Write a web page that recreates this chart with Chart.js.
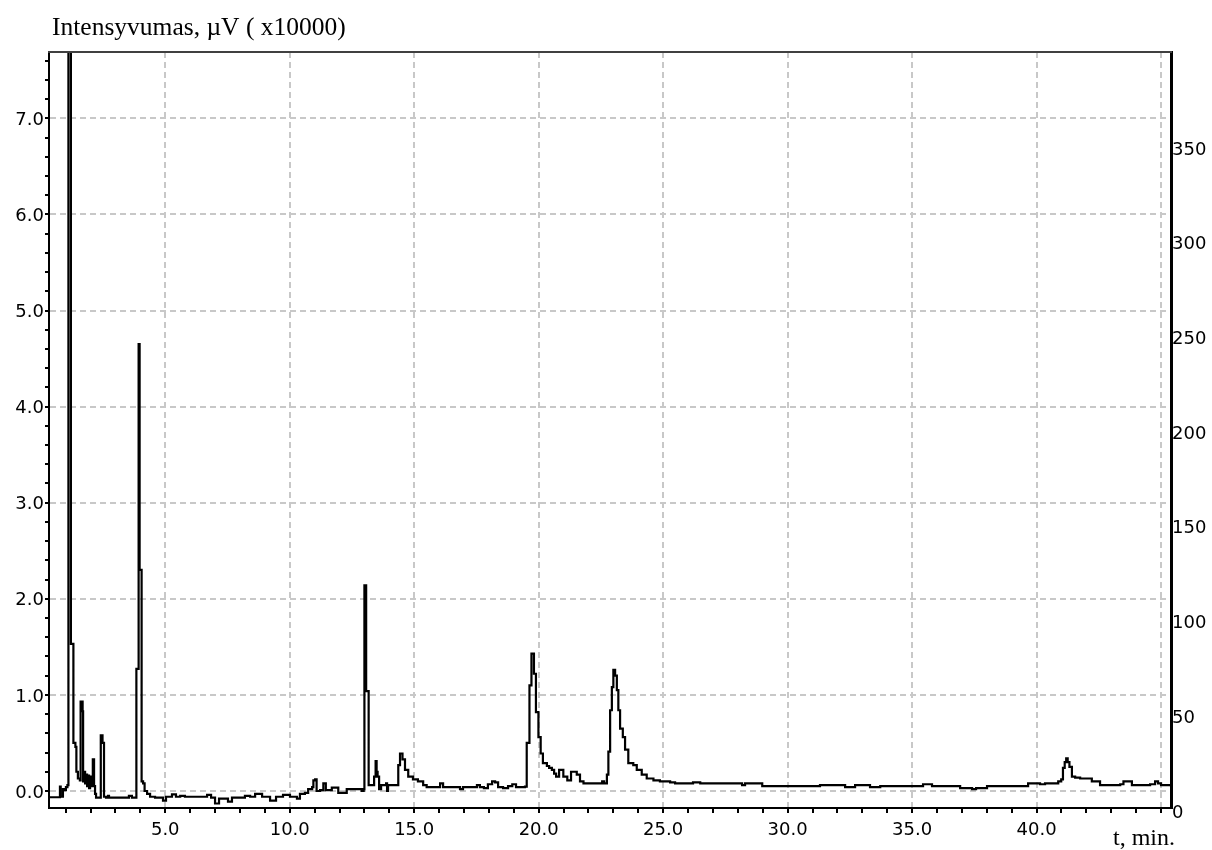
<!DOCTYPE html>
<html><head><meta charset="utf-8">
<script src="https://cdn.jsdelivr.net/npm/chart.js@4.4.1/dist/chart.umd.min.js"></script>
<style>html,body{margin:0;padding:0;background:#fff;overflow:hidden}</style>
</head><body>
<canvas id="c" width="1212" height="850"></canvas>
<script>
// ---- data (time in min, intensity in x10000 µV) ----
const times = [0.33,0.70,0.77,0.80,0.85,0.89,0.95,1.01,1.07,1.11,1.19,1.21,1.27,1.31,1.39,1.43,1.49,1.57,1.60,1.65,1.68,1.70,1.74,1.78,1.82,1.86,1.90,1.94,1.98,2.02,2.06,2.09,2.12,2.14,2.18,2.22,2.38,2.41,2.46,2.48,2.52,2.54,2.62,2.70,2.74,3.50,3.54,3.62,3.66,3.80,3.84,3.88,3.93,3.95,3.97,4.01,4.05,4.11,4.17,4.27,4.39,4.59,4.79,4.91,5.03,5.27,5.43,5.60,5.79,6.40,6.68,6.84,7.00,7.16,7.40,7.52,7.68,8.20,8.41,8.61,8.89,9.21,9.45,9.73,10.01,10.29,10.41,10.61,10.74,10.90,10.95,11.02,11.08,11.22,11.35,11.45,11.69,11.95,12.14,12.29,12.89,12.97,13.00,13.04,13.07,13.15,13.17,13.31,13.39,13.45,13.49,13.53,13.59,13.67,13.87,13.91,13.95,14.31,14.36,14.43,14.53,14.63,14.76,14.95,15.15,15.27,15.36,15.50,15.96,16.04,16.16,16.76,16.84,16.96,17.32,17.52,17.64,17.80,17.96,18.13,18.25,18.37,18.57,18.77,18.94,19.09,19.45,19.52,19.60,19.63,19.67,19.71,19.77,19.81,19.85,19.89,19.99,20.08,20.17,20.33,20.42,20.53,20.62,20.70,20.78,20.82,20.90,20.99,21.10,21.15,21.30,21.42,21.53,21.66,21.80,22.47,22.55,22.63,22.74,22.80,22.87,22.94,23.00,23.07,23.14,23.20,23.27,23.38,23.47,23.60,23.80,23.94,24.14,24.34,24.61,24.87,25.28,25.48,26.08,26.20,26.49,28.09,28.17,28.29,28.90,28.98,30.50,31.30,31.91,32.31,32.71,33.31,33.72,35.32,35.44,35.72,35.80,36.85,36.93,37.41,37.57,38.01,39.54,39.66,40.01,40.14,40.34,40.75,40.87,40.99,41.06,41.13,41.19,41.25,41.32,41.42,41.55,41.75,42.02,42.22,42.55,43.36,43.49,43.68,43.83,44.56,44.76,44.88,45.00,45.40];
const intensity = [-0.065,-0.065,0.045,-0.06,-0.06,0.02,0.01,0.04,0.06,9.0,9.0,1.53,1.53,0.5,0.46,0.2,0.13,0.11,0.93,0.93,0.83,0.1,0.2,0.08,0.17,0.05,0.16,0.03,0.15,0.05,0.15,0.33,0.33,0.05,-0.03,-0.07,-0.07,0.58,0.58,0.5,0.5,-0.06,-0.07,-0.05,-0.07,-0.07,-0.05,-0.05,-0.07,-0.07,1.27,1.27,4.65,4.65,2.3,2.3,0.1,0.08,0.0,-0.03,-0.06,-0.07,-0.07,-0.1,-0.06,-0.035,-0.06,-0.05,-0.06,-0.06,-0.04,-0.07,-0.13,-0.08,-0.08,-0.11,-0.07,-0.05,-0.06,-0.03,-0.06,-0.1,-0.06,-0.04,-0.06,-0.08,-0.03,-0.02,0.02,0.04,0.11,0.12,0.0,0.01,0.08,0.01,0.035,-0.02,-0.02,0.02,0.0,0.02,2.14,2.14,1.04,1.04,0.06,0.06,0.15,0.31,0.2,0.15,0.02,0.06,0.08,0.0,0.06,0.06,0.27,0.39,0.33,0.22,0.15,0.12,0.1,0.1,0.06,0.04,0.04,0.08,0.04,0.04,0.02,0.04,0.04,0.06,0.04,0.03,0.07,0.1,0.09,0.04,0.03,0.05,0.07,0.04,0.045,0.5,0.5,1.1,1.1,1.43,1.43,1.22,1.22,0.82,0.56,0.39,0.29,0.26,0.24,0.22,0.18,0.15,0.15,0.22,0.22,0.15,0.15,0.11,0.2,0.2,0.17,0.1,0.08,0.08,0.1,0.08,0.17,0.41,0.84,1.08,1.26,1.2,1.05,0.84,0.65,0.56,0.43,0.29,0.27,0.22,0.17,0.13,0.11,0.1,0.09,0.08,0.08,0.09,0.08,0.08,0.06,0.08,0.08,0.05,0.05,0.06,0.06,0.04,0.06,0.04,0.05,0.05,0.07,0.07,0.05,0.05,0.03,0.02,0.03,0.05,0.05,0.08,0.08,0.07,0.08,0.08,0.1,0.12,0.24,0.3,0.34,0.3,0.25,0.15,0.14,0.13,0.13,0.1,0.06,0.07,0.1,0.1,0.06,0.07,0.1,0.08,0.06,0.045];

// ---- tick labels ----
const xTickValues = [5,10,15,20,25,30,35,40];
const xTickLabels = ['5.0','10.0','15.0','20.0','25.0','30.0','35.0','40.0'];
const xGridValues = [5,10,15,20,25,30,35,40,45];
const yTickValues = [0,1,2,3,4,5,6,7];
const yTickLabels = ['0.0','1.0','2.0','3.0','4.0','5.0','6.0','7.0'];
const y2TickValues = [0,50,100,150,200,250,300,350];
const y2TickLabels = ['0','50','100','150','200','250','300','350'];
const titleText = 'Intensyvumas, \u00b5V ( x10000)';
const xTitleText = 't, min.';

// minor tick positions
const xMinor = []; for (let i = 1; i <= 45; i++) xMinor.push(i);
const yMinor = []; for (let i = 0; i <= 38; i++) yMinor.push(Math.round(i * 2) / 10);

const near = (a, b) => Math.abs(a - b) < 1e-6;
const TICK_FONT = {family: 'DejaVu Sans', size: 18};
const GRID_COL = '#c8c8c8';

const framePlugin = {
  id: 'frame',
  afterDraw(chart) {
    const {ctx, chartArea} = chart;
    ctx.save();
    ctx.strokeStyle = '#404040';
    ctx.lineWidth = 2;
    ctx.beginPath();
    ctx.moveTo(chartArea.left - 1, chartArea.top);
    ctx.lineTo(chartArea.right + 1, chartArea.top);
    ctx.stroke();
    ctx.fillStyle = '#000';
    ctx.textBaseline = 'alphabetic';
    ctx.textAlign = 'left';
    ctx.font = '25.5px "Liberation Serif"';
    ctx.fillText(titleText, 52, 35);
    ctx.font = '24px "Liberation Serif"';
    ctx.fillText(xTitleText, 1113, 845);
    ctx.restore();
  }
};

new Chart(document.getElementById('c'), {
  type: 'line',
  data: {
    datasets: [{
      data: times.map((t, i) => ({x: t, y: intensity[i]})),
      borderColor: '#000',
      borderWidth: 2.2,
      pointRadius: 0,
      stepped: 'before',
      fill: false,
      xAxisID: 'x',
      yAxisID: 'y'
    }]
  },
  options: {
    responsive: false,
    animation: false,
    devicePixelRatio: 1,
    layout: {padding: {top: 52, left: 0, right: 0, bottom: 0}},
    plugins: {legend: {display: false}, tooltip: {enabled: false}, title: {display: false}},
    scales: {
      x: {
        type: 'linear', position: 'bottom', min: 0.33, max: 45.4,
        afterBuildTicks: s => { s.ticks = xMinor.map(v => ({value: v})); },
        afterFit: s => { s.height = 42; s.paddingLeft = 0; s.paddingRight = 0; },
        ticks: {
          autoSkip: false, maxRotation: 0, minRotation: 0, padding: 7, color: '#000', font: TICK_FONT,
          callback: v => { const i = xTickValues.findIndex(k => near(k, v)); return i >= 0 ? xTickLabels[i] : ''; }
        },
        grid: {
          color: c => (c.tick && xGridValues.some(k => near(k, c.tick.value))) ? GRID_COL : 'rgba(0,0,0,0)',
          lineWidth: 2, drawTicks: true, tickLength: 5, tickColor: '#000', tickWidth: 2
        },
        border: {display: true, color: '#000', width: 2, dash: [6, 4]}
      },
      y: {
        type: 'linear', position: 'left', min: -0.177, max: 7.69,
        afterBuildTicks: s => { s.ticks = yMinor.map(v => ({value: v})); },
        afterFit: s => { s.width = 49; s.paddingTop = 0; s.paddingBottom = 0; },
        ticks: {
          autoSkip: false, padding: 1, labelOffset: 2, color: '#000', font: TICK_FONT,
          callback: v => { const i = yTickValues.findIndex(k => near(k, v)); return i >= 0 ? yTickLabels[i] : ''; }
        },
        grid: {
          color: c => (c.tick && yTickValues.some(k => near(k, c.tick.value))) ? GRID_COL : 'rgba(0,0,0,0)',
          lineWidth: 2, drawTicks: true, tickLength: 4, tickColor: '#000', tickWidth: 2
        },
        border: {display: true, color: '#000', width: 2, dash: [6, 4]}
      },
      y2: {
        type: 'linear', position: 'right', min: 0, max: 399,
        afterBuildTicks: s => { s.ticks = y2TickValues.map(v => ({value: v})); },
        afterFit: s => { s.width = 41; s.paddingTop = 0; s.paddingBottom = 0; },
        ticks: {
          autoSkip: false, padding: 1, labelOffset: 5, color: '#000', font: TICK_FONT,
          callback: v => { const i = y2TickValues.findIndex(k => near(k, v)); return i >= 0 ? y2TickLabels[i] : ''; }
        },
        grid: {drawOnChartArea: false, drawTicks: false},
        border: {display: true, color: '#000', width: 3}
      }
    }
  },
  plugins: [framePlugin]
});
</script>
</body></html>
